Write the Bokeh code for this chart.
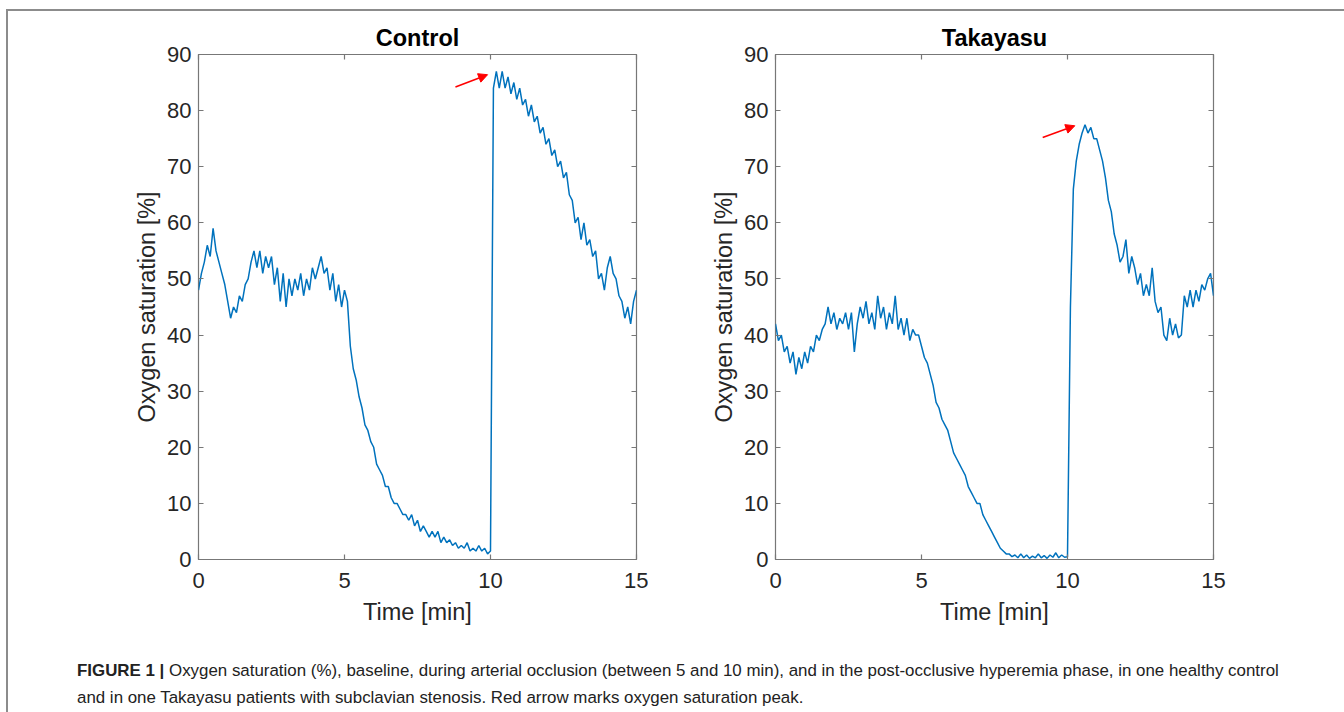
import numpy as np
from bokeh.plotting import figure
from bokeh.models import Range1d, LinearAxis, FixedTicker, Arrow, NormalHead, Div, ColumnDataSource
from bokeh.layouts import row, column
from bokeh.embed import file_html
from bokeh.resources import INLINE

# ---------------- data ----------------
time_min = [round(i * 0.1, 1) for i in range(151)]

control_sat = [
    48, 51, 53, 56, 54, 59, 55, 53, 51, 49,          # 0.0-0.9
    46, 43, 45, 44, 47, 46, 49, 50, 53, 55,          # 1.0-1.9
    52, 55, 51, 54, 52, 54, 49, 52, 46, 51,          # 2.0-2.9
    45, 50, 47, 50, 48, 51, 47, 50, 48, 52,          # 3.0-3.9
    50, 52, 54, 51, 52, 48, 51, 46, 49, 45,          # 4.0-4.9
    48, 46, 38, 34, 32, 29, 27, 24, 23, 21,          # 5.0-5.9
    20, 17, 16, 15, 13, 13, 11, 10, 10, 9,           # 6.0-6.9
    8, 8, 7, 8, 6, 7, 5, 6, 5, 4,                    # 7.0-7.9
    5, 4, 5, 3, 4, 3, 3.5, 2.5, 3, 2,                # 8.0-8.9
    2.5, 2, 3, 1.5, 2, 1.5, 2.5, 1.5, 2, 1,          # 9.0-9.9
    1.5, 84, 87, 84, 87, 84, 86, 83, 85, 82,         # 10.0-10.9
    84, 81, 82, 79, 81, 78, 79, 76, 77, 74,          # 11.0-11.9
    75, 72, 73, 70, 71, 68, 69, 65, 64, 60,          # 12.0-12.9
    61, 57, 60, 56, 57, 54, 55, 50, 51, 48,          # 13.0-13.9
    52, 54, 51, 50, 47, 46, 43, 45, 42, 46,          # 14.0-14.9
    48,                                              # 15.0
]

takayasu_sat = [
    42, 39, 40, 37, 38, 35, 37, 33, 36, 34,          # 0.0-0.9
    37, 35, 38, 37, 40, 39, 41, 42, 45, 42,          # 1.0-1.9
    44, 41, 43, 42, 44, 41, 44, 37, 42, 45,          # 2.0-2.9
    43, 46, 42, 44, 41, 47, 43, 45, 41, 44,          # 3.0-3.9
    42, 47, 41, 43, 40, 43, 39, 41, 40, 40,          # 4.0-4.9
    38, 36, 35, 33, 31, 28, 27, 25, 24, 23,          # 5.0-5.9
    21, 19, 18, 17, 16, 15, 13, 12, 11, 10,          # 6.0-6.9
    10, 8, 7, 6, 5, 4, 3, 2, 1.5, 1,                 # 7.0-7.9
    1, 0.5, 0.8, 0.3, 1, 0.3, 0.8, 0.2, 0.6, 0.3,    # 8.0-8.9
    1, 0.3, 0.7, 0.2, 0.8, 0.4, 1.2, 0.3, 0.8, 0.4,  # 9.0-9.9
    0.5, 45, 66, 71, 74, 76, 77.5, 76, 77, 75,       # 10.0-10.9
    75, 73, 71, 68, 64, 62, 58, 56, 53, 54,          # 11.0-11.9
    57, 51, 54, 52, 49, 51, 47, 49, 47, 52,          # 12.0-12.9
    46, 44, 45, 40, 39, 43, 40, 42, 39.5, 40,        # 13.0-13.9
    47, 45, 48, 45, 48, 46, 49, 48, 50, 51,          # 14.0-14.9
    47,                                              # 15.0
]

x_ticks = [0, 5, 10, 15]
y_ticks = [0, 10, 20, 30, 40, 50, 60, 70, 80, 90]

# red arrows marking the peak: [x_start, y_start, x_end, y_end]
control_arrow = [8.8, 84.2, 9.9, 86.4]
takayasu_arrow = [9.15, 75.2, 10.25, 77.3]

panel_titles = ["Control", "Takayasu"]
x_label = "Time [min]"
y_label = "Oxygen saturation [%]"
caption_bold = "FIGURE 1 |"
caption_line1 = ("Oxygen saturation (%), baseline, during arterial occlusion (between 5 and 10 min), "
                 "and in the post-occlusive hyperemia phase, in one healthy control")
caption_line2 = "and in one Takayasu patients with subclavian stenosis. Red arrow marks oxygen saturation peak."

# ---------------- style ----------------
FONT = "Liberation Sans"
LINE_COLOR = "#0072BD"
AX_COLOR = "#777777"
TXT = "#262626"


def panel(title, values, arrow, width, left, right):
    p = figure(width=width, height=624, x_range=Range1d(0, 15), y_range=Range1d(0, 90),
               output_backend="svg", toolbar_location=None, title=title,
               min_border_left=left, min_border_right=right,
               min_border_top=43, min_border_bottom=76,
               background_fill_color="white", border_fill_color="white")
    p.grid.visible = False
    p.outline_line_color = AX_COLOR
    p.outline_line_width = 1.2

    p.title.align = "center"
    p.title.text_font = FONT
    p.title.text_font_size = "23.5px"
    p.title.text_font_style = "bold"
    p.title.text_color = "black"
    p.title.standoff = 7

    for ax in (p.xaxis[0], p.yaxis[0]):
        ax.axis_line_color = None
        ax.major_tick_in = 5
        ax.major_tick_out = 0
        ax.minor_tick_line_color = None
        ax.major_tick_line_color = AX_COLOR
        ax.major_tick_line_width = 1.2
        ax.major_label_text_font = FONT
        ax.major_label_text_font_size = "22px"
        ax.major_label_text_color = TXT
        ax.axis_label_text_font = FONT
        ax.axis_label_text_font_size = "23.5px"
        ax.axis_label_text_font_style = "normal"
        ax.axis_label_text_color = TXT
    p.xaxis[0].ticker = FixedTicker(ticks=x_ticks)
    p.yaxis[0].ticker = FixedTicker(ticks=y_ticks)
    p.xaxis[0].axis_label = x_label
    p.yaxis[0].axis_label = y_label
    p.xaxis[0].major_label_standoff = 13
    p.xaxis[0].axis_label_standoff = 8
    p.yaxis[0].major_label_standoff = 7
    p.yaxis[0].axis_label_standoff = 4

    # box ticks on top and right (MATLAB style)
    for loc, ticks in (("above", x_ticks), ("right", y_ticks)):
        ax = LinearAxis(ticker=FixedTicker(ticks=ticks))
        ax.axis_line_color = None
        ax.major_tick_in = 5
        ax.major_tick_out = 0
        ax.minor_tick_line_color = None
        ax.major_tick_line_color = AX_COLOR
        ax.major_tick_line_width = 1.2
        ax.major_label_text_font_size = "1px"
        ax.major_label_text_color = None
        ax.major_label_standoff = 0
        p.add_layout(ax, loc)

    src = ColumnDataSource(dict(t=time_min, v=values))
    p.line("t", "v", source=src, line_color=LINE_COLOR, line_width=1.5)

    p.add_layout(Arrow(end=NormalHead(size=9, fill_color="red", line_color="red", line_width=1),
                       x_start=arrow[0], y_start=arrow[1], x_end=arrow[2], y_end=arrow[3],
                       line_color="red", line_width=1.5))
    return p


p1 = panel(panel_titles[0], control_sat, control_arrow, width=640, left=190, right=12)
p2 = panel(panel_titles[1], takayasu_sat, takayasu_arrow, width=686, left=127, right=121)

caption_html = (
    f'<div style="font-family:\'{FONT}\',Arial,sans-serif;font-size:16.9px;color:#222;'
    f'padding-left:64px;padding-top:22px;">'
    f'<div style="line-height:17px;white-space:nowrap;"><b>{caption_bold}</b> {caption_line1}</div>'
    f'<div style="line-height:17px;margin-top:10px;white-space:nowrap;">{caption_line2}</div>'
    f'</div>'
)
cap = Div(text=caption_html, width=1326, height=68)

layout = column(row(p1, p2), cap,
                styles={"border-top": "2px solid #8c8c8c", "border-left": "2px solid #8c8c8c",
                        "margin-top": "9px", "margin-left": "6px"})

open("out.html", "w").write(file_html(layout, INLINE))
